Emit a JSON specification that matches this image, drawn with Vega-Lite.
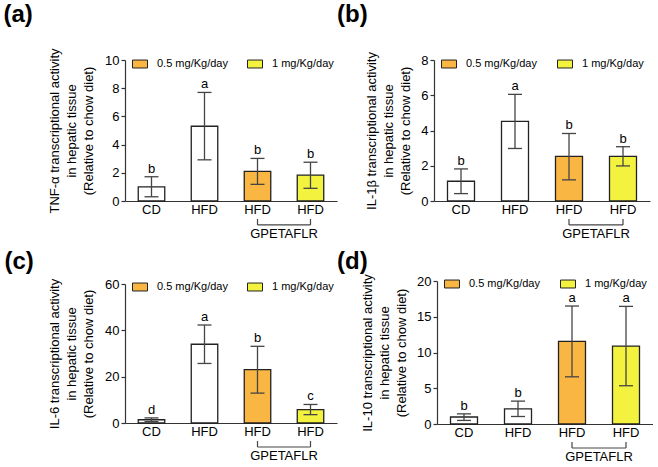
{
  "$schema": "https://vega.github.io/schema/vega-lite/v6.json",
  "padding": {"left": 3, "top": 2, "right": 0, "bottom": 0},
  "background": "white",
  "config": {
    "view": {"stroke": null},
    "font": "Liberation Sans",
    "axis": {"labelFont": "Liberation Sans", "titleFont": "Liberation Sans", "labelColor": "black", "titleColor": "black", "domainColor": "#333", "tickColor": "#333", "labelFontSize": 13, "titleFontSize": 13, "titleFontWeight": "normal", "grid": false, "domainWidth": 1.2, "tickWidth": 1.2, "labelOverlap": false},
    "title": {"font": "Liberation Sans", "fontSize": 24, "fontWeight": "bold", "color": "black", "anchor": "start", "frame": "group"},
    "legend": {"labelFont": "Liberation Sans", "labelFontSize": 11, "labelColor": "black"},
    "text": {"font": "Liberation Sans"}
  },
  "datasets": {
    "d": [
      {"p": "a", "g": "CD", "dose": "none", "mean": 1.0, "lo": 0.3, "hi": 1.72, "letter": "b"},
      {"p": "a", "g": "HFD", "dose": "none", "mean": 5.3, "lo": 2.92, "hi": 7.7, "letter": "a"},
      {"p": "a", "g": "H05", "dose": "0.5 mg/Kg/day", "mean": 2.1, "lo": 1.18, "hi": 3.02, "letter": "b"},
      {"p": "a", "g": "H1", "dose": "1 mg/Kg/day", "mean": 1.83, "lo": 0.9, "hi": 2.75, "letter": "b"},
      {"p": "b", "g": "CD", "dose": "none", "mean": 1.12, "lo": 0.42, "hi": 1.82, "letter": "b"},
      {"p": "b", "g": "HFD", "dose": "none", "mean": 4.52, "lo": 2.98, "hi": 6.05, "letter": "a"},
      {"p": "b", "g": "H05", "dose": "0.5 mg/Kg/day", "mean": 2.53, "lo": 1.2, "hi": 3.83, "letter": "b"},
      {"p": "b", "g": "H1", "dose": "1 mg/Kg/day", "mean": 2.53, "lo": 1.99, "hi": 3.08, "letter": "b"},
      {"p": "c", "g": "CD", "dose": "none", "mean": 1.4, "lo": 0.6, "hi": 2.2, "letter": "d"},
      {"p": "c", "g": "HFD", "dose": "none", "mean": 34.0, "lo": 25.7, "hi": 42.3, "letter": "a"},
      {"p": "c", "g": "H05", "dose": "0.5 mg/Kg/day", "mean": 23.0, "lo": 12.9, "hi": 33.1, "letter": "b"},
      {"p": "c", "g": "H1", "dose": "1 mg/Kg/day", "mean": 5.8, "lo": 3.6, "hi": 8.0, "letter": "c"},
      {"p": "d", "g": "CD", "dose": "none", "mean": 0.98, "lo": 0.5, "hi": 1.42, "letter": "b"},
      {"p": "d", "g": "HFD", "dose": "none", "mean": 2.12, "lo": 1.05, "hi": 3.2, "letter": "b"},
      {"p": "d", "g": "H05", "dose": "0.5 mg/Kg/day", "mean": 11.55, "lo": 6.6, "hi": 16.5, "letter": "a"},
      {"p": "d", "g": "H1", "dose": "1 mg/Kg/day", "mean": 10.9, "lo": 5.35, "hi": 16.45, "letter": "a"}
    ]
  },
  "data": {"name": "d"},
  "resolve": {"scale": {"color": "independent", "y": "independent", "x": "independent"}, "legend": {"color": "independent"}},
  "columns": 2,
  "align": "none",
  "spacing": {"row": 7, "column": 0},
  "concat": [
    {
      "width": 212, "height": 141,
      "title": {"text": "(a)", "dx": -121.5, "offset": 21},
      "transform": [{"filter": "datum.p == 'a'"}],
      "encoding": {"x": {"field": "g", "type": "nominal", "sort": ["CD", "HFD", "H05", "H1"], "scale": {"domain": ["CD", "HFD", "H05", "H1"], "paddingInner": 0.5, "paddingOuter": 0.25}, "axis": {"title": null, "ticks": false, "labelAngle": 0, "labelPadding": 2, "labelExpr": "datum.value == 'CD' ? 'CD' : 'HFD'"}}},
      "layer": [
        {"mark": {"type": "bar", "stroke": "#222", "strokeWidth": 1.3},
         "encoding": {
           "y": {"field": "mean", "type": "quantitative", "scale": {"domain": [0, 10], "nice": false}, "axis": {"values": [0, 2, 4, 6, 8, 10], "labelOverlap": false, "tickSize": 4, "labelPadding": 2, "titlePadding": 9, "titleLineHeight": 17, "title": ["TNF-α transcriptional activity", "in hepatic tissue", "(Relative to chow diet)"]}},
           "color": {"field": "dose", "type": "nominal", "scale": {"domain": ["none", "0.5 mg/Kg/day", "1 mg/Kg/day"], "range": ["#ffffff", "#F9B642", "#F3F33F"]}, "legend": {"orient": "none", "legendX": 7, "legendY": -4, "direction": "horizontal", "title": null, "values": ["0.5 mg/Kg/day", "1 mg/Kg/day"], "symbolType": "M-1,-0.53L1,-0.53L1,0.53L-1,0.53Z", "symbolSize": 225, "symbolStrokeColor": "#222", "symbolStrokeWidth": 1, "symbolOpacity": 1, "labelOffset": 9, "columnPadding": 17}}}},
        {"mark": {"type": "rule", "color": "#444", "strokeWidth": 1.3}, "encoding": {"y": {"field": "lo", "type": "quantitative", "scale": {"domain": [0, 10], "nice": false}, "axis": {"values": [0, 2, 4, 6, 8, 10], "labelOverlap": false}}, "y2": {"field": "hi"}}},
        {"mark": {"type": "tick", "color": "#444", "thickness": 1.3, "size": 14, "opacity": 1}, "encoding": {"y": {"field": "lo", "type": "quantitative", "scale": {"domain": [0, 10], "nice": false}, "axis": {"values": [0, 2, 4, 6, 8, 10], "labelOverlap": false}}}},
        {"mark": {"type": "tick", "color": "#444", "thickness": 1.3, "size": 14, "opacity": 1}, "encoding": {"y": {"field": "hi", "type": "quantitative", "scale": {"domain": [0, 10], "nice": false}, "axis": {"values": [0, 2, 4, 6, 8, 10], "labelOverlap": false}}}},
        {"mark": {"type": "text", "fontSize": 13, "baseline": "alphabetic", "dy": -4, "color": "black"}, "encoding": {"y": {"field": "hi", "type": "quantitative", "scale": {"domain": [0, 10], "nice": false}, "axis": {"values": [0, 2, 4, 6, 8, 10], "labelOverlap": false}}, "text": {"field": "letter"}}},
        {"transform": [{"filter": "datum.g == 'H05' || datum.g == 'H1'"}], "mark": {"type": "rule", "color": "#444", "strokeWidth": 1.2}, "encoding": {"y": {"datum": -1.28, "type": "quantitative", "scale": {"domain": [0, 10], "nice": false}, "axis": {"values": [0, 2, 4, 6, 8, 10], "labelOverlap": false}}, "y2": {"datum": -1.7}}},
        {"transform": [{"filter": "datum.g == 'H05'"}], "mark": {"type": "rule", "color": "#444", "strokeWidth": 1.2}, "encoding": {"x2": {"datum": "H1"}, "y": {"datum": -1.7, "type": "quantitative", "scale": {"domain": [0, 10], "nice": false}, "axis": {"values": [0, 2, 4, 6, 8, 10], "labelOverlap": false}}}},
        {"transform": [{"filter": "datum.g == 'H05'"}], "mark": {"type": "text", "fontSize": 13, "baseline": "alphabetic", "color": "black"}, "encoding": {"x": {"field": "g", "type": "nominal", "bandPosition": 1.5, "sort": ["CD", "HFD", "H05", "H1"], "scale": {"domain": ["CD", "HFD", "H05", "H1"], "paddingInner": 0.5, "paddingOuter": 0.25}}, "y": {"datum": -2.62, "type": "quantitative", "scale": {"domain": [0, 10], "nice": false}, "axis": {"values": [0, 2, 4, 6, 8, 10], "labelOverlap": false}}, "text": {"value": "GPETAFLR"}}}
      ]
    },
    {
      "width": 216, "height": 141,
      "title": {"text": "(b)", "dx": -97, "offset": 25},
      "transform": [{"filter": "datum.p == 'b'"}],
      "encoding": {"x": {"field": "g", "type": "nominal", "sort": ["CD", "HFD", "H05", "H1"], "scale": {"domain": ["CD", "HFD", "H05", "H1"], "paddingInner": 0.5, "paddingOuter": 0.25}, "axis": {"title": null, "ticks": false, "labelAngle": 0, "labelPadding": 2, "labelExpr": "datum.value == 'CD' ? 'CD' : 'HFD'"}}},
      "layer": [
        {"mark": {"type": "bar", "stroke": "#222", "strokeWidth": 1.3},
         "encoding": {
           "y": {"field": "mean", "type": "quantitative", "scale": {"domain": [0, 8], "nice": false}, "axis": {"values": [0, 2, 4, 6, 8], "labelOverlap": false, "tickSize": 4, "labelPadding": 2, "titlePadding": 8, "titleLineHeight": 17, "title": ["IL-1β transcriptional activity", "in hepatic tissue", "(Relative to chow diet)"]}},
           "color": {"field": "dose", "type": "nominal", "scale": {"domain": ["none", "0.5 mg/Kg/day", "1 mg/Kg/day"], "range": ["#ffffff", "#F9B642", "#F3F33F"]}, "legend": {"orient": "none", "legendX": 7, "legendY": -4, "direction": "horizontal", "title": null, "values": ["0.5 mg/Kg/day", "1 mg/Kg/day"], "symbolType": "M-1,-0.53L1,-0.53L1,0.53L-1,0.53Z", "symbolSize": 225, "symbolStrokeColor": "#222", "symbolStrokeWidth": 1, "symbolOpacity": 1, "labelOffset": 9, "columnPadding": 18}}}},
        {"mark": {"type": "rule", "color": "#444", "strokeWidth": 1.3}, "encoding": {"y": {"field": "lo", "type": "quantitative", "scale": {"domain": [0, 8], "nice": false}, "axis": {"values": [0, 2, 4, 6, 8], "labelOverlap": false}}, "y2": {"field": "hi"}}},
        {"mark": {"type": "tick", "color": "#444", "thickness": 1.3, "size": 14, "opacity": 1}, "encoding": {"y": {"field": "lo", "type": "quantitative", "scale": {"domain": [0, 8], "nice": false}, "axis": {"values": [0, 2, 4, 6, 8], "labelOverlap": false}}}},
        {"mark": {"type": "tick", "color": "#444", "thickness": 1.3, "size": 14, "opacity": 1}, "encoding": {"y": {"field": "hi", "type": "quantitative", "scale": {"domain": [0, 8], "nice": false}, "axis": {"values": [0, 2, 4, 6, 8], "labelOverlap": false}}}},
        {"mark": {"type": "text", "fontSize": 13, "baseline": "alphabetic", "dy": -4, "color": "black"}, "encoding": {"y": {"field": "hi", "type": "quantitative", "scale": {"domain": [0, 8], "nice": false}, "axis": {"values": [0, 2, 4, 6, 8], "labelOverlap": false}}, "text": {"field": "letter"}}},
        {"transform": [{"filter": "datum.g == 'H05' || datum.g == 'H1'"}], "mark": {"type": "rule", "color": "#444", "strokeWidth": 1.2}, "encoding": {"y": {"datum": -1.02, "type": "quantitative", "scale": {"domain": [0, 8], "nice": false}, "axis": {"values": [0, 2, 4, 6, 8], "labelOverlap": false}}, "y2": {"datum": -1.36}}},
        {"transform": [{"filter": "datum.g == 'H05'"}], "mark": {"type": "rule", "color": "#444", "strokeWidth": 1.2}, "encoding": {"x2": {"datum": "H1"}, "y": {"datum": -1.36, "type": "quantitative", "scale": {"domain": [0, 8], "nice": false}, "axis": {"values": [0, 2, 4, 6, 8], "labelOverlap": false}}}},
        {"transform": [{"filter": "datum.g == 'H05'"}], "mark": {"type": "text", "fontSize": 13, "baseline": "alphabetic", "color": "black"}, "encoding": {"x": {"field": "g", "type": "nominal", "bandPosition": 1.5, "sort": ["CD", "HFD", "H05", "H1"], "scale": {"domain": ["CD", "HFD", "H05", "H1"], "paddingInner": 0.5, "paddingOuter": 0.25}}, "y": {"datum": -2.1, "type": "quantitative", "scale": {"domain": [0, 8], "nice": false}, "axis": {"values": [0, 2, 4, 6, 8], "labelOverlap": false}}, "text": {"value": "GPETAFLR"}}}
      ]
    },
    {
      "width": 212, "height": 139,
      "title": {"text": "(c)", "dx": -120.5, "offset": 4.5},
      "transform": [{"filter": "datum.p == 'c'"}],
      "encoding": {"x": {"field": "g", "type": "nominal", "sort": ["CD", "HFD", "H05", "H1"], "scale": {"domain": ["CD", "HFD", "H05", "H1"], "paddingInner": 0.5, "paddingOuter": 0.25}, "axis": {"title": null, "ticks": false, "labelAngle": 0, "labelPadding": 2, "labelExpr": "datum.value == 'CD' ? 'CD' : 'HFD'"}}},
      "layer": [
        {"mark": {"type": "bar", "stroke": "#222", "strokeWidth": 1.3},
         "encoding": {
           "y": {"field": "mean", "type": "quantitative", "scale": {"domain": [0, 60], "nice": false}, "axis": {"values": [0, 20, 40, 60], "labelOverlap": false, "tickSize": 4, "labelPadding": 2, "titlePadding": 9, "titleLineHeight": 17, "title": ["IL-6 transcriptional activity", "in hepatic tissue", "(Relative to chow diet)"]}},
           "color": {"field": "dose", "type": "nominal", "scale": {"domain": ["none", "0.5 mg/Kg/day", "1 mg/Kg/day"], "range": ["#ffffff", "#F9B642", "#F3F33F"]}, "legend": {"orient": "none", "legendX": 7, "legendY": -5, "direction": "horizontal", "title": null, "values": ["0.5 mg/Kg/day", "1 mg/Kg/day"], "symbolType": "M-1,-0.53L1,-0.53L1,0.53L-1,0.53Z", "symbolSize": 225, "symbolStrokeColor": "#222", "symbolStrokeWidth": 1, "symbolOpacity": 1, "labelOffset": 9, "columnPadding": 17}}}},
        {"mark": {"type": "rule", "color": "#444", "strokeWidth": 1.3}, "encoding": {"y": {"field": "lo", "type": "quantitative", "scale": {"domain": [0, 60], "nice": false}, "axis": {"values": [0, 20, 40, 60], "labelOverlap": false}}, "y2": {"field": "hi"}}},
        {"mark": {"type": "tick", "color": "#444", "thickness": 1.3, "size": 14, "opacity": 1}, "encoding": {"y": {"field": "lo", "type": "quantitative", "scale": {"domain": [0, 60], "nice": false}, "axis": {"values": [0, 20, 40, 60], "labelOverlap": false}}}},
        {"mark": {"type": "tick", "color": "#444", "thickness": 1.3, "size": 14, "opacity": 1}, "encoding": {"y": {"field": "hi", "type": "quantitative", "scale": {"domain": [0, 60], "nice": false}, "axis": {"values": [0, 20, 40, 60], "labelOverlap": false}}}},
        {"mark": {"type": "text", "fontSize": 13, "baseline": "alphabetic", "dy": -4, "color": "black"}, "encoding": {"y": {"field": "hi", "type": "quantitative", "scale": {"domain": [0, 60], "nice": false}, "axis": {"values": [0, 20, 40, 60], "labelOverlap": false}}, "text": {"field": "letter"}}},
        {"transform": [{"filter": "datum.g == 'H05' || datum.g == 'H1'"}], "mark": {"type": "rule", "color": "#444", "strokeWidth": 1.2}, "encoding": {"y": {"datum": -7.77, "type": "quantitative", "scale": {"domain": [0, 60], "nice": false}, "axis": {"values": [0, 20, 40, 60], "labelOverlap": false}}, "y2": {"datum": -10.36}}},
        {"transform": [{"filter": "datum.g == 'H05'"}], "mark": {"type": "rule", "color": "#444", "strokeWidth": 1.2}, "encoding": {"x2": {"datum": "H1"}, "y": {"datum": -10.36, "type": "quantitative", "scale": {"domain": [0, 60], "nice": false}, "axis": {"values": [0, 20, 40, 60], "labelOverlap": false}}}},
        {"transform": [{"filter": "datum.g == 'H05'"}], "mark": {"type": "text", "fontSize": 13, "baseline": "alphabetic", "color": "black"}, "encoding": {"x": {"field": "g", "type": "nominal", "bandPosition": 1.5, "sort": ["CD", "HFD", "H05", "H1"], "scale": {"domain": ["CD", "HFD", "H05", "H1"], "paddingInner": 0.5, "paddingOuter": 0.25}}, "y": {"datum": -15.97, "type": "quantitative", "scale": {"domain": [0, 60], "nice": false}, "axis": {"values": [0, 20, 40, 60], "labelOverlap": false}}, "text": {"value": "GPETAFLR"}}}
      ]
    },
    {
      "width": 216, "height": 143,
      "title": {"text": "(d)", "dx": -100, "offset": 0},
      "transform": [{"filter": "datum.p == 'd'"}],
      "encoding": {"x": {"field": "g", "type": "nominal", "sort": ["CD", "HFD", "H05", "H1"], "scale": {"domain": ["CD", "HFD", "H05", "H1"], "paddingInner": 0.5, "paddingOuter": 0.25}, "axis": {"title": null, "ticks": false, "labelAngle": 0, "labelPadding": 2, "labelExpr": "datum.value == 'CD' ? 'CD' : 'HFD'"}}},
      "layer": [
        {"mark": {"type": "bar", "stroke": "#222", "strokeWidth": 1.3},
         "encoding": {
           "y": {"field": "mean", "type": "quantitative", "scale": {"domain": [0, 20], "nice": false}, "axis": {"values": [0, 5, 10, 15, 20], "labelOverlap": false, "tickSize": 4, "labelPadding": 2, "titlePadding": 8, "titleLineHeight": 17, "title": ["IL-10 transcriptional activity", "in hepatic tissue", "(Relative to chow diet)"]}},
           "color": {"field": "dose", "type": "nominal", "scale": {"domain": ["none", "0.5 mg/Kg/day", "1 mg/Kg/day"], "range": ["#ffffff", "#F9B642", "#F3F33F"]}, "legend": {"orient": "none", "legendX": 7, "legendY": -5, "direction": "horizontal", "title": null, "values": ["0.5 mg/Kg/day", "1 mg/Kg/day"], "symbolType": "M-1,-0.53L1,-0.53L1,0.53L-1,0.53Z", "symbolSize": 225, "symbolStrokeColor": "#222", "symbolStrokeWidth": 1, "symbolOpacity": 1, "labelOffset": 9, "columnPadding": 18}}}},
        {"mark": {"type": "rule", "color": "#444", "strokeWidth": 1.3}, "encoding": {"y": {"field": "lo", "type": "quantitative", "scale": {"domain": [0, 20], "nice": false}, "axis": {"values": [0, 5, 10, 15, 20], "labelOverlap": false}}, "y2": {"field": "hi"}}},
        {"mark": {"type": "tick", "color": "#444", "thickness": 1.3, "size": 14, "opacity": 1}, "encoding": {"y": {"field": "lo", "type": "quantitative", "scale": {"domain": [0, 20], "nice": false}, "axis": {"values": [0, 5, 10, 15, 20], "labelOverlap": false}}}},
        {"mark": {"type": "tick", "color": "#444", "thickness": 1.3, "size": 14, "opacity": 1}, "encoding": {"y": {"field": "hi", "type": "quantitative", "scale": {"domain": [0, 20], "nice": false}, "axis": {"values": [0, 5, 10, 15, 20], "labelOverlap": false}}}},
        {"mark": {"type": "text", "fontSize": 13, "baseline": "alphabetic", "dy": -4, "color": "black"}, "encoding": {"y": {"field": "hi", "type": "quantitative", "scale": {"domain": [0, 20], "nice": false}, "axis": {"values": [0, 5, 10, 15, 20], "labelOverlap": false}}, "text": {"field": "letter"}}},
        {"transform": [{"filter": "datum.g == 'H05' || datum.g == 'H1'"}], "mark": {"type": "rule", "color": "#444", "strokeWidth": 1.2}, "encoding": {"y": {"datum": -2.52, "type": "quantitative", "scale": {"domain": [0, 20], "nice": false}, "axis": {"values": [0, 5, 10, 15, 20], "labelOverlap": false}}, "y2": {"datum": -3.36}}},
        {"transform": [{"filter": "datum.g == 'H05'"}], "mark": {"type": "rule", "color": "#444", "strokeWidth": 1.2}, "encoding": {"x2": {"datum": "H1"}, "y": {"datum": -3.36, "type": "quantitative", "scale": {"domain": [0, 20], "nice": false}, "axis": {"values": [0, 5, 10, 15, 20], "labelOverlap": false}}}},
        {"transform": [{"filter": "datum.g == 'H05'"}], "mark": {"type": "text", "fontSize": 13, "baseline": "alphabetic", "color": "black"}, "encoding": {"x": {"field": "g", "type": "nominal", "bandPosition": 1.5, "sort": ["CD", "HFD", "H05", "H1"], "scale": {"domain": ["CD", "HFD", "H05", "H1"], "paddingInner": 0.5, "paddingOuter": 0.25}}, "y": {"datum": -5.19, "type": "quantitative", "scale": {"domain": [0, 20], "nice": false}, "axis": {"values": [0, 5, 10, 15, 20], "labelOverlap": false}}, "text": {"value": "GPETAFLR"}}}
      ]
    }
  ]
}
